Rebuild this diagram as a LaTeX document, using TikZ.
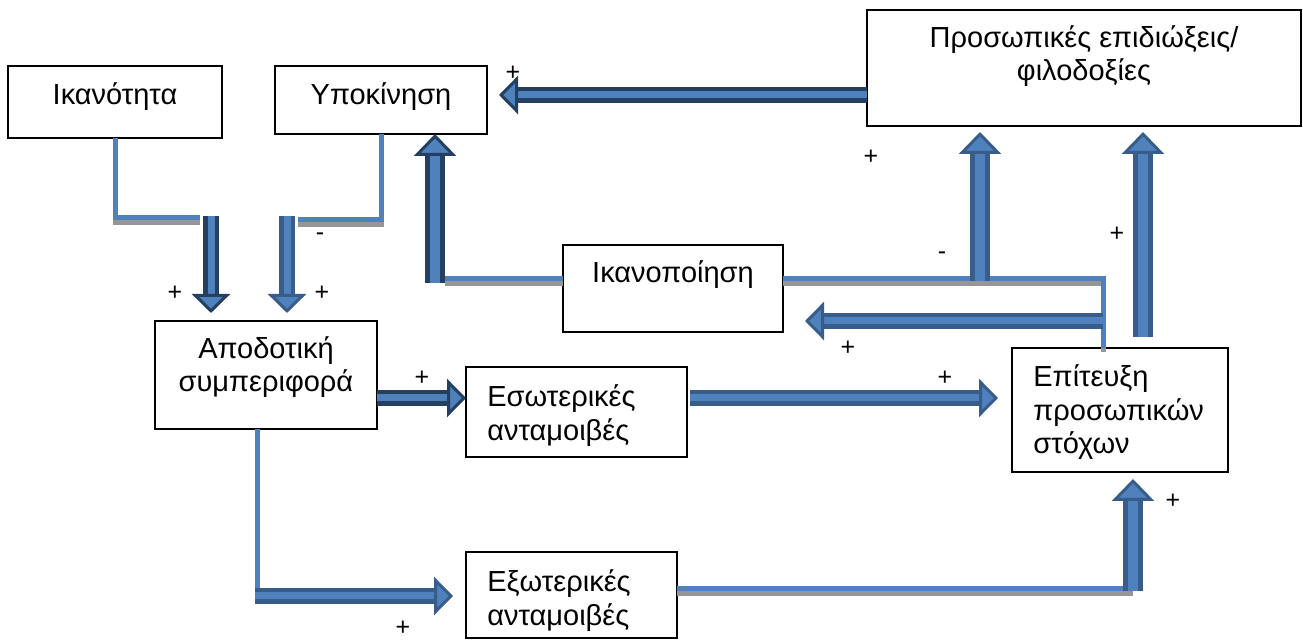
\documentclass[tikz,border=0pt]{standalone}
\usepackage{fontspec}
\setmainfont{Liberation Sans}
\usetikzlibrary{positioning,calc,arrows.meta}
\definecolor{BarBlue}{RGB}{79,129,189}
\definecolor{EdgeBlue}{RGB}{56,93,138}
\definecolor{NavyBlue}{RGB}{36,63,96}
\definecolor{ShadowGray}{RGB}{150,150,150}
\tikzset{
	box/.style={draw=black,line width=1pt,inner sep=0pt,outer sep=0pt,anchor=north west},
	txt/.style={font=\fontsize{14.5}{16.75}\selectfont,inner sep=0pt,align=center},
	wire/.style={draw=BarBlue,line width=2.5pt,
		preaction={draw=ShadowGray,line width=2.5pt,transform canvas={yshift=-2.25pt}}},
	bar/.style={draw=EdgeBlue,line width=2.25pt,double=BarBlue,double distance=3.5pt,
		-{Triangle[length=9.5pt,width=19pt,fill=BarBlue,line width=1.5pt]}},
	upbar/.style={bar,line width=2.5pt,double distance=5pt,
		-{Triangle[length=11pt,width=21pt,fill=BarBlue,line width=1.5pt]}},
	dark/.style={draw=NavyBlue},
	sign/.style={font=\fontsize{12.5}{14}\selectfont,inner sep=0pt},
}
\begin{document}
\begin{tikzpicture}[x=0.5pt,y=-0.5pt]
	\useasboundingbox (0,0) rectangle (1303,640);
	\node[box,minimum width=107pt,minimum height=36pt,label={[txt,anchor=base,yshift=-19.5pt]north:Ικανότητα}] (ikanotita) at (8,66) {};
	\node[box,minimum width=106pt,minimum height=34pt,label={[txt,anchor=base,yshift=-19.5pt]north:Υποκίνηση}] (ypokinisi) at (275,66) {};
	\node[box,minimum width=217pt,minimum height=58pt,label={[txt,anchor=base,yshift=-35.5pt]north:Προσωπικές επιδιώξεις/\\φιλοδοξίες}] (filodoxies) at (867,10) {};
	\node[box,minimum width=110pt,minimum height=43.5pt,label={[txt,anchor=base,yshift=-19pt]north:Ικανοποίηση}] (ikanopoiisi) at (563,245) {};
	\node[box,minimum width=111pt,minimum height=54pt,label={[txt,anchor=base,yshift=-35.5pt]north:Αποδοτική\\συμπεριφορά}] (apodotiki) at (155,321) {};
	\node[box,minimum width=110.5pt,minimum height=45pt,label={[txt,align=left,anchor=base west,xshift=10.5pt,yshift=-36.75pt]north west:Εσωτερικές\\ανταμοιβές}] (esoterikes) at (466,367) {};
	\node[box,minimum width=108pt,minimum height=62pt,label={[txt,align=left,anchor=base west,xshift=10.5pt,yshift=-53pt]north west:Επίτευξη\\προσωπικών\\στόχων}] (epiteuxi) at (1012,348) {};
	\node[box,minimum width=105.5pt,minimum height=43pt,label={[txt,align=left,anchor=base west,xshift=10.5pt,yshift=-36.75pt]north west:Εξωτερικές\\ανταμοιβές}] (exoterikes) at (466,552) {};
	\coordinate (k1) at (200,218);
	\coordinate (k2) at (211,216);
	\coordinate (m1) at (298,220);
	\coordinate (m2) at (287,216);
	\coordinate (s1) at (445,279);
	\coordinate (s2) at (435,283);
	\coordinate (p1) at (0,95);
	\coordinate (j1) at (1103,279);
	\coordinate (j2) at (1103,321);
	\coordinate (u1) at (980,281);
	\coordinate (e1) at (1143,337);
	\coordinate (a1) at (0,398);
	\coordinate (b1) at (257,596);
	\coordinate (x1) at (1133,589);
	\draw[wire] (ikanotita.south) |- (k1);
	\draw[bar,dark,shorten >=4pt] (k2) -- (k2 |- apodotiki.north);
	\draw[wire] (ypokinisi.south) |- (m1);
	\draw[bar,shorten >=4pt] (m2) -- (m2 |- apodotiki.north);
	\draw[wire] (ikanopoiisi.west |- s1) -- (s1);
	\draw[upbar,dark] (s2) -- (s2 |- ypokinisi.south);
	\draw[bar,dark,shorten >=6pt] (filodoxies.west |- p1) -- (ypokinisi.east |- p1);
	\draw[wire] (ikanopoiisi.east |- j1) -| (epiteuxi.north -| j1);
	\draw[upbar,shorten >=3pt] (u1) -- (u1 |- filodoxies.south);
	\draw[bar,shorten >=11pt] (j2) -- (ikanopoiisi.east |- j2);
	\draw[upbar,shorten >=3pt] (e1) -- (e1 |- filodoxies.south);
	\draw[bar,dark] (apodotiki.east |- a1) -- (esoterikes.west |- a1);
	\draw[bar,shorten <=1.5pt,shorten >=7pt] (esoterikes.east |- a1) -- (epiteuxi.west |- a1);
	\draw[wire] (apodotiki.south -| b1) -- (b1);
	\draw[bar,shorten >=6.5pt] ([xshift=-1pt]b1) -- (exoterikes.west |- b1);
	\draw[wire] (exoterikes.east |- x1) -- (x1);
	\draw[upbar,shorten >=3.5pt] ([yshift=-1pt]x1) -- (x1 |- epiteuxi.south);
	\node[sign] (sg1) at (175,293) {+};
	\node[sign] (sg2) at (322,293) {+};
	\node[sign] (sg3) at (320,237) {-};
	\node[sign] (sg4) at (513,73) {+};
	\node[sign] (sg5) at (871,157) {+};
	\node[sign] (sg6) at (942,256) {-};
	\node[sign] (sg7) at (1117,234) {+};
	\node[sign] (sg8) at (848,348) {+};
	\node[sign] (sg9) at (422,378) {+};
	\node[sign] (sg10) at (945,378) {+};
	\node[sign] (sg11) at (403,628) {+};
	\node[sign] (sg12) at (1173,501) {+};
\end{tikzpicture}
\end{document}
